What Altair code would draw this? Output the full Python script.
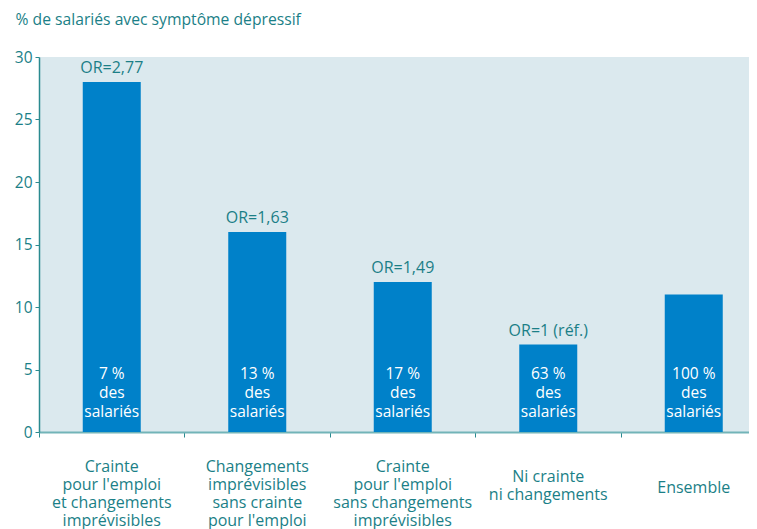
import altair as alt
import pandas as pd

categories = [
    "Crainte\npour l'emploi\net changements\nimprévisibles",
    "Changements\nimprévisibles\nsans crainte\npour l'emploi",
    "Crainte\npour l'emploi\nsans changements\nimprévisibles",
    "Ni crainte\nni changements",
    "Ensemble",
]
values = [28, 16, 12, 7, 11]
odds_ratios = ["OR=2,77", "OR=1,63", "OR=1,49", "OR=1 (réf.)", ""]
shares = ["7 %", "13 %", "17 %", "63 %", "100 %"]
y_ticks = [0, 5, 10, 15, 20, 25, 30]
y_title = "% de salariés avec symptôme dépressif"

df = pd.DataFrame({
    "cat": categories,
    "pos": [i + 0.5 for i in range(len(categories))],
    "val": values,
    "or": odds_ratios,
    "inner": [s + "\ndes\nsalariés" for s in shares],
    "nlines": [c.count("\n") + 1 for c in categories],
})

TEAL = "#1b7f87"
AXIS_TEAL = "#2a8a90"
BASE_LINE = "#72b4b8"
BLUE = "#0081c9"
BG = "#dbe9ee"
FONT = "Open Sans"

PLOT_W = 710
STEP = 145.5  # pixel width of one category slot in the reference

x = alt.X(
    "pos:Q",
    title=None,
    scale=alt.Scale(domain=[0, PLOT_W / STEP], nice=False, zero=False, padding=0),
    axis=alt.Axis(
        values=[0, 1, 2, 3, 4],
        labels=False,
        grid=False,
        tickSize=5,
        tickColor=AXIS_TEAL,
        domainColor=BASE_LINE,
        domainWidth=2,
    ),
)

y_scale = alt.Scale(domain=[0, 30], nice=False)

base = alt.Chart(df).encode(x=x)

bars = base.mark_bar(size=58, color=BLUE).encode(
    y=alt.Y(
        "val:Q",
        scale=y_scale,
        axis=alt.Axis(
            values=y_ticks,
            grid=False,
            title=y_title,
            titleAngle=0,
            titleAlign="left",
            titleBaseline="alphabetic",
            titleX=-24,
            titleY=-33,
            titleFontSize=15.7,
            titleFontWeight="normal",
            titleColor=TEAL,
            titleFont=FONT,
            labelColor=TEAL,
            labelFontSize=15.5,
            labelFont=FONT,
            labelPadding=3,
            tickSize=4,
            tickColor=AXIS_TEAL,
            domainColor=AXIS_TEAL,
            domainWidth=1.5,
        ),
    )
)

or_text = base.mark_text(
    baseline="alphabetic", dy=-9, color=TEAL, font=FONT, fontSize=16
).encode(y=alt.Y("val:Q", scale=y_scale), text="or:N")

inner_text = base.mark_text(
    baseline="alphabetic", dy=-53, lineBreak="\n", lineHeight=19,
    color="white", font=FONT, fontSize=15.5
).encode(y=alt.datum(0), text="inner:N")

# category labels under the axis, vertically centred like the reference
label_layers = []
for n, dy in [(4, 40), (2, 50), (1, 61)]:
    label_layers.append(
        base.transform_filter(alt.datum.nlines == n)
        .mark_text(
            baseline="alphabetic", dy=dy, lineBreak="\n", lineHeight=18,
            color=TEAL, font=FONT, fontSize=16
        )
        .encode(y=alt.datum(0), text="cat:N")
    )

chart = (
    alt.layer(bars, or_text, inner_text, *label_layers)
    .properties(
        width=PLOT_W,
        height=375,
        autosize=alt.AutoSizeParams(type="none"),
        padding={"left": 31, "top": 49, "right": 0, "bottom": 97},
        background="white",
    )
    .configure_view(fill=BG, stroke=None)
)

chart.save("out.html", embed_options={"renderer": "svg", "actions": False})
